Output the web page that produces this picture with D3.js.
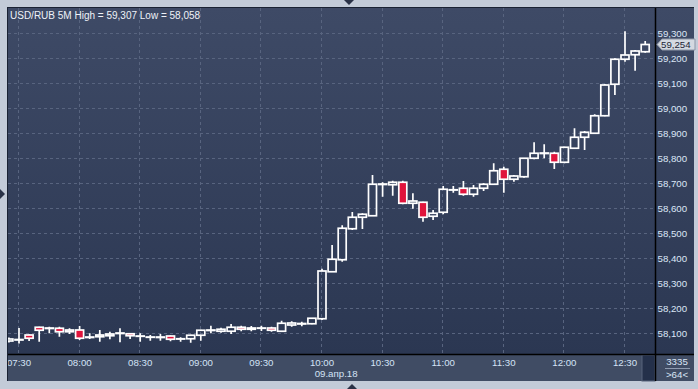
<!DOCTYPE html>
<html>
<head>
<meta charset="utf-8">
<script src="https://cdn.jsdelivr.net/npm/d3@7"></script>
<style>
  body { margin: 0; background: #c3cbd8; }
  svg { display: block; }
  text { font-family: "Liberation Sans", Arial, sans-serif; }
</style>
</head>
<body>
<svg id="chart" width="698" height="389"></svg>
<script>
// USD/RUB 5 minute candles, 07:25 .. 12:40 (09 Apr 2018)
const firstCandle = "2018-04-09 07:25"
const opens = [58068, 58072, 58092, 58123, 58118, 58119, 58105, 58112, 58082, 58085, 58089, 58098, 58097, 58087, 58083, 58082,
  58088, 58076, 58077, 58091, 58110, 58107, 58107, 58123, 58115, 58119, 58120, 58107, 58132, 58136, 58137, 58157,
  58345, 58393, 58517, 58563, 58569, 58694, 58693, 58703, 58619, 58623, 58567, 58583, 58672, 58679, 58655, 58679,
  58695, 58755, 58715, 58725, 58799, 58818, 58819, 58783, 58839, 58883, 58899, 58969, 59095, 59195, 59213, 59225]
const highs = [58082, 58120, 58094, 58125, 58125, 58125, 58119, 58128, 58099, 58112, 58105, 58119, 58100, 58099, 58092, 58096,
  58090, 58083, 58093, 58113, 58129, 58121, 58136, 58129, 58128, 58129, 58125, 58149, 58147, 58145, 58160, 58357,
  58452, 58531, 58584, 58579, 58732, 58703, 58709, 58709, 58659, 58625, 58592, 58688, 58688, 58708, 58692, 58699,
  58779, 58765, 58732, 58800, 58863, 58855, 58825, 58845, 58919, 58908, 58975, 59096, 59199, 59307, 59232, 59268]
const lows = [58062, 58058, 58068, 58065, 58099, 58085, 58096, 58072, 58076, 58065, 58075, 58063, 58076, 58065, 58069, 58069,
  58067, 58065, 58061, 58069, 58099, 58101, 58096, 58107, 58107, 58108, 58105, 58106, 58125, 58127, 58135, 58152,
  58344, 58385, 58512, 58516, 58568, 58645, 58649, 58615, 58597, 58545, 58552, 58575, 58661, 58649, 58645, 58668,
  58692, 58661, 58705, 58721, 58795, 58799, 58756, 58779, 58837, 58832, 58897, 58967, 59052, 59185, 59149, 59221]
const closes = [58076, 58074, 58079, 58111, 58120, 58105, 58112, 58079, 58084, 58092, 58096, 58100, 58089, 58088, 58084, 58084,
  58075, 58077, 58091, 58111, 58112, 58115, 58123, 58115, 58120, 58120, 58111, 58139, 58140, 58138, 58159, 58348,
  58395, 58519, 58563, 58575, 58695, 58696, 58703, 58619, 58628, 58563, 58579, 58675, 58673, 58655, 58679, 58695,
  58749, 58715, 58728, 58799, 58819, 58820, 58783, 58843, 58883, 58903, 58969, 59092, 59195, 59212, 59228, 59254]

const priceTicks = [58100, 58200, 58300, 58400, 58500, 58600, 58700, 58800, 58900, 59000, 59100, 59200, 59300]
const timeTicks = ["07:30", "08:00", "08:30", "09:00", "09:30", "10:00", "10:30", "11:00", "11:30", "12:00", "12:30"]
const dateLabel = "09.апр.18"
const symbol = "USD/RUB 5M"
const footerTop = "3335"
const footerBottom = ">64<"

const parse = d3.timeParse("%Y-%m-%d %H:%M")
const day = "2018-04-09 "
const t0 = parse(firstCandle)
const candles = opens.map((o, i) => ({
  time: d3.timeMinute.offset(t0, 5 * i),
  open: o, high: highs[i], low: lows[i], close: closes[i]
}))

// layout
const plot = {left: 8, right: 655, top: 8, bottom: 354}
const svg = d3.select("#chart")
const fs = 9.7

const x = d3.scaleTime()
  .domain([parse(day + "07:30"), parse(day + "12:30")])
  .range([19, 625])
const y = d3.scaleLinear()
  .domain([58100, 59300])
  .range([333, 33])

const defs = svg.append("defs")
const grad = defs.append("linearGradient").attr("id", "bg").attr("x1", 0).attr("y1", 0).attr("x2", 0).attr("y2", 1)
grad.append("stop").attr("offset", "0%").attr("stop-color", "#3e4a66")
grad.append("stop").attr("offset", "100%").attr("stop-color", "#2b3752")
defs.append("clipPath").attr("id", "plotclip")
  .append("rect").attr("x", plot.left).attr("y", plot.top)
  .attr("width", plot.right - plot.left).attr("height", plot.bottom - plot.top)
defs.append("clipPath").attr("id", "labelclip")
  .append("rect").attr("x", plot.left).attr("y", plot.bottom)
  .attr("width", 634).attr("height", 27)

// frame
svg.append("rect").attr("width", 698).attr("height", 389).attr("fill", "#c3cbd8")
svg.append("rect").attr("x", 7).attr("y", 7).attr("width", 687).attr("height", 374).attr("fill", "#dfe4ec")
svg.append("rect").attr("x", plot.left).attr("y", plot.top).attr("width", 686).attr("height", plot.bottom - plot.top)
  .attr("fill", "url(#bg)")
svg.append("rect").attr("x", plot.left).attr("y", plot.bottom).attr("width", 686).attr("height", 27)
  .attr("fill", "#404c64")
svg.append("rect").attr("x", 642).attr("y", plot.bottom + 1).attr("width", 13).attr("height", 26)
  .attr("fill", "#24304a").attr("stroke", "#56627a").attr("stroke-width", 1)
svg.append("line").attr("x1", 7.5).attr("x2", 7.5).attr("y1", 7).attr("y2", 381).attr("stroke", "#1a2233")
svg.append("line").attr("x1", 7).attr("x2", 694).attr("y1", 7.5).attr("y2", 7.5).attr("stroke", "#1a2233")

// little arrows on the frame
const tri = [[[344, 0], [354, 0], [349, 5]], [[347, 389], [357, 389], [352, 384]], [[0, 189], [0, 199], [5, 194]]]
svg.selectAll(".tri").data(tri).join("path").attr("class", "tri")
  .attr("d", d => "M" + d.join("L") + "Z").attr("fill", "#2a3247")

// grid
const grid = svg.append("g").attr("clip-path", "url(#plotclip)")
  .attr("stroke", "#58647f").attr("stroke-dasharray", "3,3").attr("stroke-width", 1)
grid.selectAll(".h").data(priceTicks).join("line").attr("class", "h")
  .attr("x1", plot.left).attr("x2", plot.right)
  .attr("y1", d => Math.round(y(d)) + 0.5).attr("y2", d => Math.round(y(d)) + 0.5)
grid.selectAll(".v").data(timeTicks).join("line").attr("class", "v")
  .attr("y1", plot.top).attr("y2", plot.bottom)
  .attr("x1", d => Math.round(x(parse(day + d))) - 0.5).attr("x2", d => Math.round(x(parse(day + d))) - 0.5)

// candles
const bw = 8
const cg = svg.append("g").attr("clip-path", "url(#plotclip)")
  .attr("stroke", "#ffffff").attr("stroke-width", 1.7)
const c = cg.selectAll("g").data(candles).join("g")
c.append("line")
  .attr("x1", d => x(d.time)).attr("x2", d => x(d.time))
  .attr("y1", d => y(d.high)).attr("y2", d => y(Math.max(d.open, d.close)))
c.append("line")
  .attr("x1", d => x(d.time)).attr("x2", d => x(d.time))
  .attr("y1", d => y(Math.min(d.open, d.close))).attr("y2", d => y(d.low))
c.append("rect")
  .attr("x", d => x(d.time) - bw / 2)
  .attr("width", bw)
  .attr("y", d => y(Math.max(d.open, d.close)))
  .attr("height", d => Math.max(0.3, y(Math.min(d.open, d.close)) - y(Math.max(d.open, d.close))))
  .attr("fill", d => d.close < d.open ? "#e0143c" : "none")

// separating lines
svg.append("line").attr("x1", plot.left).attr("x2", 694).attr("y1", plot.bottom + 0.5).attr("y2", plot.bottom + 0.5)
  .attr("stroke", "#000").attr("stroke-width", 1.5)
svg.append("line").attr("x1", plot.right + 0.5).attr("x2", plot.right + 0.5).attr("y1", plot.top).attr("y2", 381)
  .attr("stroke", "#000").attr("stroke-width", 1.5)

// price axis
const fmt = d3.format(",")
svg.append("g").selectAll("text").data(priceTicks).join("text")
  .attr("x", 657.5).attr("y", d => y(d) + 3.6)
  .attr("font-size", fs).attr("fill", "#dbe6f6")
  .text(d => fmt(d))

// time axis
svg.append("g").attr("clip-path", "url(#labelclip)")
  .selectAll("text").data(timeTicks).join("text")
  .attr("x", d => x(parse(day + d))).attr("y", 365.5)
  .attr("text-anchor", "middle").attr("font-size", fs).attr("fill", "#d3e2f5")
  .text(d => d)
svg.append("text").attr("x", x(parse(day + "10:07"))).attr("y", 377)
  .attr("text-anchor", "middle").attr("font-size", fs).attr("fill", "#d3e2f5")
  .text(dateLabel)

// bottom right counters
svg.append("text").attr("x", 677).attr("y", 364.5).attr("text-anchor", "middle")
  .attr("font-size", fs).attr("fill", "#dbe6f6").text(footerTop)
svg.append("line").attr("x1", 665).attr("x2", 690).attr("y1", 368.5).attr("y2", 368.5).attr("stroke", "#8f9bb0")
svg.append("text").attr("x", 677).attr("y", 377.5).attr("text-anchor", "middle")
  .attr("font-size", fs).attr("fill", "#dbe6f6").text(footerBottom)

// last price marker
const last = candles[candles.length - 1].close
const ly = y(last)
svg.append("path")
  .attr("d", `M657,${ly}L662,${ly - 5.5}L695,${ly - 5.5}L695,${ly + 5.5}L662,${ly + 5.5}Z`)
  .attr("fill", "#d4d9e1").attr("stroke", "#8d96a6")
svg.append("text").attr("x", 661).attr("y", ly + 3.6)
  .attr("font-size", fs).attr("fill", "#1d2536").text(fmt(last))

// title
svg.append("text").attr("x", 10).attr("y", 18.5)
  .attr("font-size", 10).attr("fill", "#eef2f8")
  .text(`${symbol} High = ${fmt(d3.max(highs))} Low = ${fmt(d3.min(lows))}`)
</script>
</body>
</html>
